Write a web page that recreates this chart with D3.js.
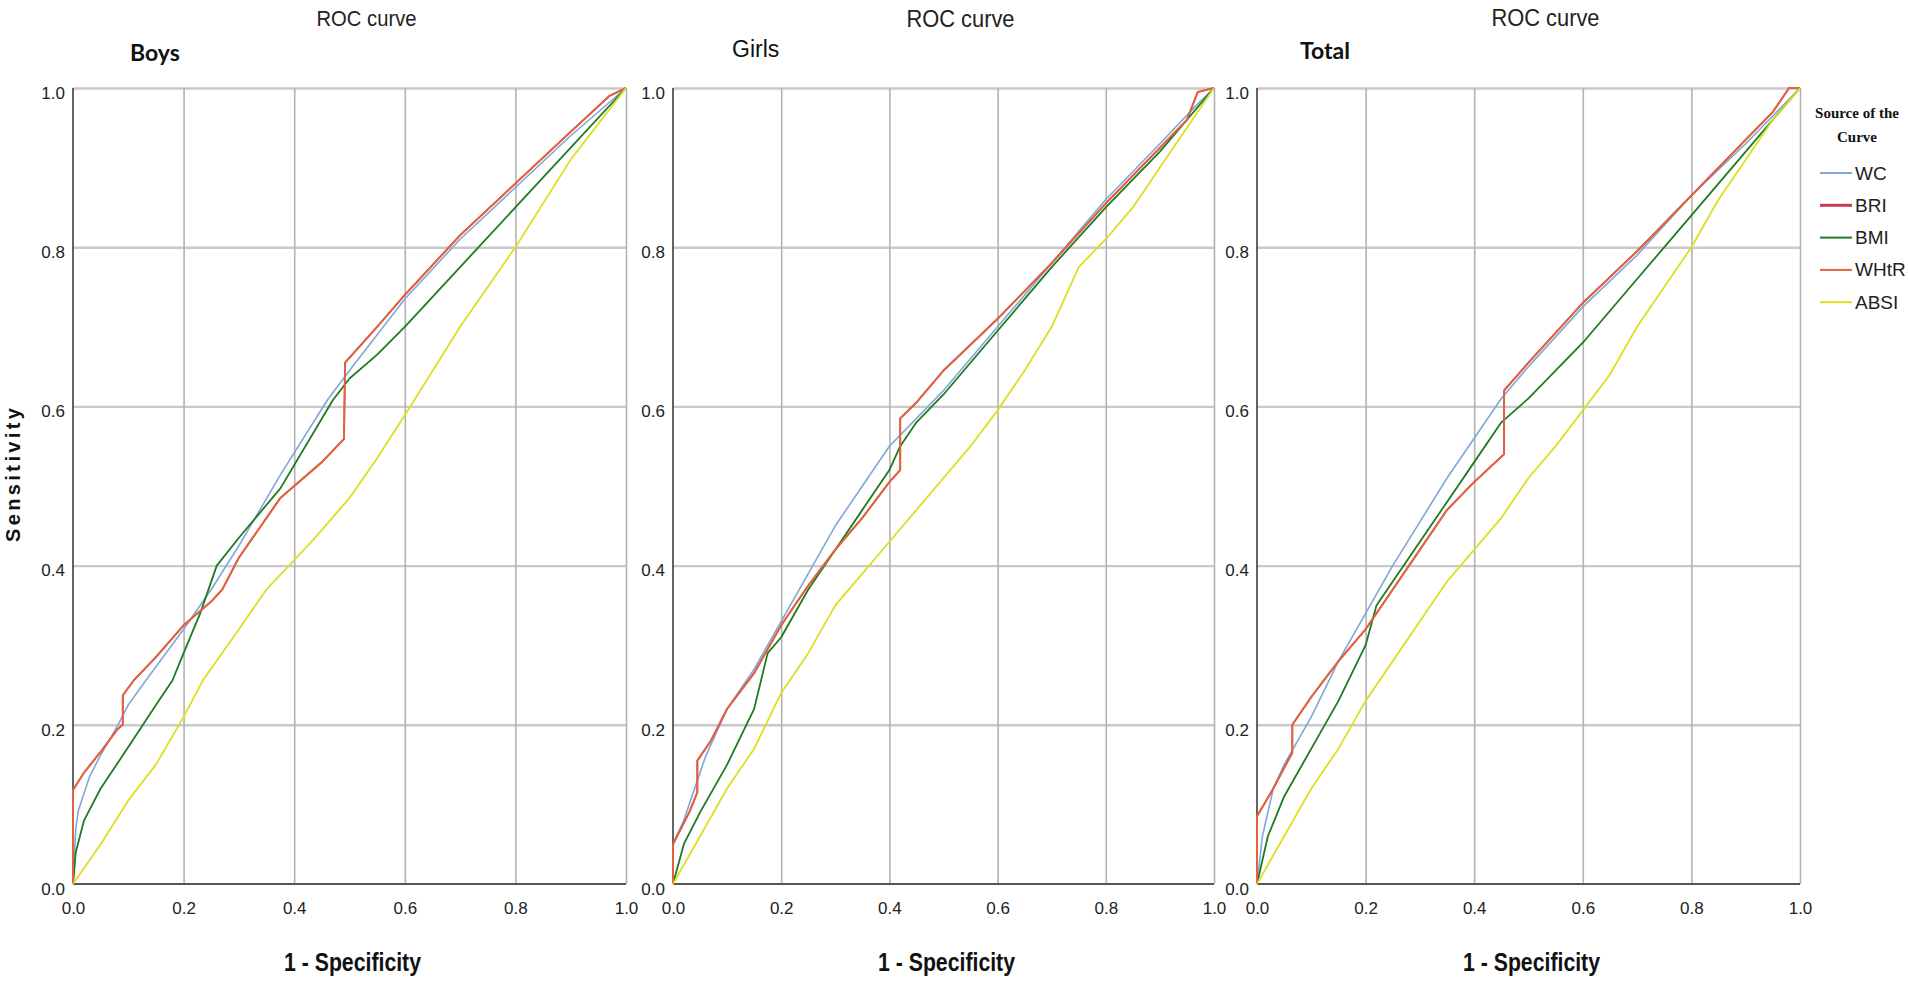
<!DOCTYPE html>
<html><head><meta charset="utf-8">
<script src="https://cdn.jsdelivr.net/npm/d3@7"></script>
<style>body{margin:0;background:#fff}svg{display:block}</style>
</head><body><svg id="c" width="1908" height="986"></svg>
<script>
// ---------- data ----------
const panelNames = ["Boys", "Girls", "Total"];
const seriesNames = ["WC", "BRI", "BMI", "WHtR", "ABSI"];
const tickValues = [0, 0.2, 0.4, 0.6, 0.8, 1.0];
const tickLabels = ["0.0", "0.2", "0.4", "0.6", "0.8", "1.0"];
const chartTitle = "ROC curve";
const xTitle = "1 - Specificity";
const yTitle = "Sensitivity";
const legendTitle = ["Source of the", "Curve"];

// [1 - specificity, sensitivity]
const boysWC = [[0,0],[0.005,0.07],[0.01,0.093],[0.03,0.135],[0.05,0.162],[0.08,0.198],[0.1,0.225],[0.132,0.256],[0.2,0.32],[0.25,0.37],[0.3,0.425],[0.375,0.514],[0.46,0.608],[0.5,0.645],[0.6,0.735],[0.7,0.81],[0.8,0.875],[0.9,0.94],[1,1]];
const boysBRI = [[0,0],[0,0.118],[0.02,0.14],[0.05,0.166],[0.08,0.194],[0.09,0.2],[0.09,0.237],[0.11,0.256],[0.15,0.285],[0.2,0.325],[0.25,0.355],[0.27,0.37],[0.3,0.41],[0.375,0.485],[0.45,0.53],[0.49,0.559],[0.492,0.655],[0.55,0.7],[0.6,0.74],[0.7,0.815],[0.8,0.88],[0.9,0.945],[0.97,0.99],[1,1]];
const boysBMI = [[0,0],[0.005,0.04],[0.02,0.08],[0.05,0.12],[0.1,0.172],[0.15,0.225],[0.18,0.256],[0.2,0.29],[0.23,0.34],[0.26,0.4],[0.3,0.435],[0.375,0.497],[0.47,0.608],[0.5,0.635],[0.55,0.665],[0.6,0.7],[0.7,0.775],[0.8,0.85],[0.9,0.925],[1,1]];
const boysWHtR = [[0,0],[0,0.118],[0.02,0.14],[0.05,0.166],[0.08,0.194],[0.09,0.2],[0.09,0.237],[0.11,0.256],[0.15,0.285],[0.2,0.325],[0.25,0.355],[0.27,0.37],[0.3,0.41],[0.375,0.485],[0.45,0.53],[0.49,0.559],[0.492,0.655],[0.55,0.7],[0.6,0.74],[0.7,0.815],[0.8,0.88],[0.9,0.945],[0.97,0.99],[1,1]];
const boysABSI = [[0,0],[0.05,0.05],[0.1,0.105],[0.15,0.15],[0.2,0.21],[0.235,0.256],[0.3,0.32],[0.35,0.37],[0.434,0.432],[0.5,0.485],[0.55,0.535],[0.61,0.6],[0.7,0.7],[0.8,0.8],[0.9,0.91],[1,1]];

const girlsWC = [[0,0],[0,0.05],[0.02,0.08],[0.04,0.12],[0.06,0.16],[0.1,0.22],[0.15,0.27],[0.2,0.33],[0.25,0.39],[0.3,0.45],[0.35,0.5],[0.4,0.55],[0.45,0.585],[0.5,0.62],[0.6,0.7],[0.7,0.78],[0.8,0.86],[0.9,0.93],[0.97,0.98],[1,1]];
const girlsBRI = [[0,0],[0,0.05],[0.03,0.09],[0.045,0.115],[0.045,0.155],[0.07,0.18],[0.1,0.22],[0.15,0.265],[0.2,0.325],[0.25,0.375],[0.3,0.42],[0.35,0.46],[0.4,0.505],[0.42,0.52],[0.42,0.585],[0.45,0.605],[0.5,0.645],[0.6,0.71],[0.7,0.78],[0.8,0.855],[0.9,0.925],[0.95,0.96],[0.97,0.995],[1,1]];
const girlsBMI = [[0,0],[0.02,0.05],[0.05,0.09],[0.1,0.15],[0.15,0.22],[0.175,0.29],[0.2,0.31],[0.25,0.37],[0.3,0.42],[0.35,0.47],[0.4,0.52],[0.42,0.55],[0.45,0.58],[0.5,0.615],[0.6,0.695],[0.7,0.775],[0.8,0.85],[0.9,0.92],[1,1]];
const girlsWHtR = [[0,0],[0,0.05],[0.03,0.09],[0.045,0.115],[0.045,0.155],[0.07,0.18],[0.1,0.22],[0.15,0.265],[0.2,0.325],[0.25,0.375],[0.3,0.42],[0.35,0.46],[0.4,0.505],[0.42,0.52],[0.42,0.585],[0.45,0.605],[0.5,0.645],[0.6,0.71],[0.7,0.78],[0.8,0.855],[0.9,0.925],[0.95,0.96],[0.97,0.995],[1,1]];
const girlsABSI = [[0,0],[0.05,0.06],[0.1,0.12],[0.15,0.17],[0.2,0.24],[0.25,0.29],[0.3,0.35],[0.35,0.39],[0.4,0.43],[0.45,0.47],[0.5,0.51],[0.55,0.55],[0.6,0.595],[0.65,0.645],[0.7,0.7],[0.75,0.775],[0.8,0.81],[0.85,0.85],[0.9,0.9],[0.95,0.95],[1,1]];

const totalWC = [[0,0],[0.01,0.06],[0.03,0.12],[0.05,0.15],[0.1,0.21],[0.15,0.28],[0.2,0.34],[0.25,0.4],[0.3,0.455],[0.35,0.51],[0.4,0.56],[0.45,0.61],[0.5,0.65],[0.6,0.725],[0.7,0.79],[0.8,0.865],[0.9,0.93],[1,1]];
const totalBRI = [[0,0],[0,0.085],[0.03,0.12],[0.065,0.165],[0.065,0.2],[0.1,0.235],[0.15,0.28],[0.2,0.32],[0.25,0.37],[0.3,0.42],[0.35,0.47],[0.4,0.505],[0.455,0.54],[0.455,0.62],[0.5,0.655],[0.6,0.73],[0.7,0.795],[0.8,0.865],[0.9,0.935],[0.95,0.97],[0.98,1],[1,1]];
const totalBMI = [[0,0],[0.02,0.06],[0.05,0.11],[0.1,0.17],[0.15,0.23],[0.2,0.3],[0.22,0.35],[0.25,0.38],[0.3,0.43],[0.35,0.48],[0.4,0.53],[0.45,0.58],[0.5,0.61],[0.6,0.68],[0.7,0.76],[0.8,0.84],[0.9,0.92],[1,1]];
const totalWHtR = [[0,0],[0,0.085],[0.03,0.12],[0.065,0.165],[0.065,0.2],[0.1,0.235],[0.15,0.28],[0.2,0.32],[0.25,0.37],[0.3,0.42],[0.35,0.47],[0.4,0.505],[0.455,0.54],[0.455,0.62],[0.5,0.655],[0.6,0.73],[0.7,0.795],[0.8,0.865],[0.9,0.935],[0.95,0.97],[0.98,1],[1,1]];
const totalABSI = [[0,0],[0.05,0.06],[0.1,0.12],[0.15,0.17],[0.2,0.23],[0.25,0.28],[0.3,0.33],[0.35,0.38],[0.4,0.42],[0.45,0.46],[0.5,0.51],[0.55,0.55],[0.6,0.595],[0.65,0.64],[0.7,0.7],[0.75,0.75],[0.8,0.8],[0.85,0.86],[0.9,0.91],[0.95,0.96],[1,1]];

const panelSeries = [
  [boysWC, boysBRI, boysBMI, boysWHtR, boysABSI],
  [girlsWC, girlsBRI, girlsBMI, girlsWHtR, girlsABSI],
  [totalWC, totalBRI, totalBMI, totalWHtR, totalABSI]
];

// ---------- styles / layout ----------
const colors = {WC:"#7fa7d8", BRI:"#c83a58", BMI:"#1f7a22", WHtR:"#e0623e", ABSI:"#dede22"};
const widths = {WC:1.6, BRI:1.6, BMI:1.8, WHtR:2.0, ABSI:1.8};
const narrow = "'Liberation Sans Narrow', 'Arial Narrow', 'Liberation Sans', Arial, sans-serif";
const panelX = [[73, 626], [673, 1214], [1257, 1800]];
const yTop = 88, yBot = 884;
const titleStyles = [
  {dx: 57, y: 52, font: "Lato, 'Open Sans', sans-serif", weight: 700, size: 23},
  {dx: 59, y: 49, font: narrow, weight: 400, size: 23},
  {dx: 43, y: 50, font: "Lato, 'Open Sans', sans-serif", weight: 700, size: 23}
];
const rocTitleSize = [22, 24, 23];

const svg = d3.select("#c");
const y = d3.scaleLinear().domain([0, 1]).range([yBot, yTop]);
const gridVals = tickValues.slice(1);
const fmt = d => tickLabels[tickValues.findIndex(v => Math.abs(v - d) < 1e-9)];

panelNames.forEach((name, i) => {
  const [x0, x1] = panelX[i];
  const x = d3.scaleLinear().domain([0, 1]).range([x0, x1]);
  const g = svg.append("g");

  const gh = g.append("g").attr("transform", `translate(${x0},0)`)
    .call(d3.axisLeft(y).tickValues(gridVals).tickSize(-(x1 - x0)).tickFormat(""));
  gh.select(".domain").remove();
  gh.selectAll("line").attr("stroke", "#c9c9c9").attr("stroke-width", 2.4);

  const gv = g.append("g").attr("transform", `translate(0,${yBot})`)
    .call(d3.axisBottom(x).tickValues(gridVals).tickSize(-(yBot - yTop)).tickFormat(""));
  gv.select(".domain").remove();
  gv.selectAll("line").attr("stroke", "#b3b3b3").attr("stroke-width", 1.6);

  g.append("line").attr("x1", x0).attr("x2", x0).attr("y1", y(0)).attr("y2", y(1))
    .attr("stroke", "#111").attr("stroke-width", 1.3);
  g.append("line").attr("x1", x0).attr("x2", x1).attr("y1", y(0)).attr("y2", y(0))
    .attr("stroke", "#555").attr("stroke-width", 2.2);

  const ly = g.append("g").attr("transform", `translate(${x0},0)`)
    .call(d3.axisLeft(y).tickValues(tickValues).tickSize(0).tickPadding(8).tickFormat(fmt));
  ly.select(".domain").remove();
  ly.selectAll("text").attr("font-family", narrow).attr("font-size", 17)
    .attr("fill", "#222").attr("dy", "0.6em");
  const lx = g.append("g").attr("transform", `translate(0,${yBot})`)
    .call(d3.axisBottom(x).tickValues(tickValues).tickSize(0).tickPadding(18).tickFormat(fmt));
  lx.select(".domain").remove();
  lx.selectAll("text").attr("font-family", narrow).attr("font-size", 17).attr("fill", "#222");

  const line = d3.line().x(d => x(d[0])).y(d => y(d[1]));
  seriesNames.forEach((s, k) => {
    g.append("path").datum(panelSeries[i][k]).attr("d", line)
      .attr("fill", "none").attr("stroke", colors[s]).attr("stroke-width", widths[s])
      .attr("stroke-linejoin", "round");
  });

  const cx = (x0 + x1) / 2;
  svg.append("text").attr("x", cx + 17).attr("y", 18).attr("text-anchor", "middle")
    .attr("dominant-baseline", "central").attr("font-family", narrow).attr("font-size", rocTitleSize[i])
    .attr("fill", "#222").attr("textLength", i === 0 ? 100 : 108).attr("lengthAdjust", "spacingAndGlyphs")
    .text(chartTitle);
  const ts = titleStyles[i];
  svg.append("text").attr("x", x0 + ts.dx).attr("y", ts.y).attr("dominant-baseline", "central")
    .attr("font-family", ts.font).attr("font-weight", ts.weight).attr("font-size", ts.size)
    .attr("fill", "#111").text(name);

  svg.append("text").attr("x", cx + 3).attr("y", 962).attr("text-anchor", "middle")
    .attr("dominant-baseline", "central").attr("font-family", narrow).attr("font-weight", 700)
    .attr("font-size", 26).attr("fill", "#111").attr("textLength", 137)
    .attr("lengthAdjust", "spacingAndGlyphs").text(xTitle);
});

svg.append("text").attr("transform", "translate(13,475) rotate(-90)")
  .attr("text-anchor", "middle").attr("dominant-baseline", "central")
  .attr("font-family", "'Liberation Sans', Arial, sans-serif").attr("font-weight", 700)
  .attr("font-size", 20).attr("fill", "#111").attr("textLength", 134).attr("lengthAdjust", "spacing")
  .text(yTitle);

const lg = svg.append("g");
legendTitle.forEach((t, i) => {
  lg.append("text").attr("x", 1857).attr("y", 113 + i * 24).attr("text-anchor", "middle")
    .attr("dominant-baseline", "central").attr("font-family", "'Liberation Serif', 'Times New Roman', serif")
    .attr("font-weight", 700).attr("font-size", 15).attr("fill", "#111").text(t);
});
seriesNames.forEach((s, i) => {
  const yy = 173 + i * 32.3;
  lg.append("line").attr("x1", 1820).attr("x2", 1852).attr("y1", yy).attr("y2", yy)
    .attr("stroke", colors[s]).attr("stroke-width", s === "BRI" ? 3 : 2);
  lg.append("text").attr("x", 1855).attr("y", yy).attr("dominant-baseline", "central")
    .attr("font-family", narrow).attr("font-size", 19).attr("fill", "#222").text(s);
});
</script></body></html>
